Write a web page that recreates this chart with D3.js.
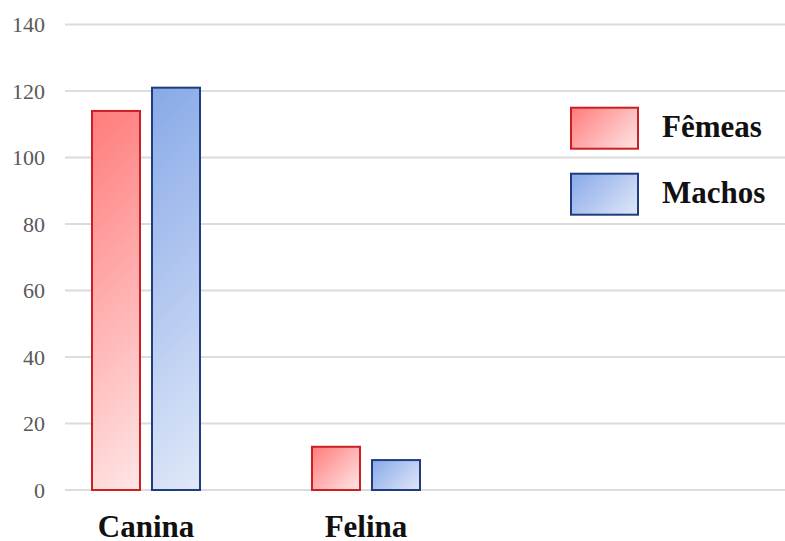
<!DOCTYPE html>
<html>
<head>
<meta charset="utf-8">
<script src="https://cdn.jsdelivr.net/npm/d3@7"></script>
<style>
  html, body { margin: 0; padding: 0; background: #fff; }
  svg { display: block; }
</style>
</head>
<body>
<svg id="chart" width="785" height="541"></svg>
<script>
// Animals by species and sex
const categories = ["Canina", "Felina"];
const seriesNames = ["Fêmeas", "Machos"];
const femeas = [114, 13];
const machos = [121, 9];
const yTicks = [0, 20, 40, 60, 80, 100, 120, 140];

const seriesValues = [femeas, machos];
const palette = [
  { stroke: "#cc1f24", from: "#ff7b7b", to: "#ffe6e6" },
  { stroke: "#1f3c7f", from: "#88a9e8", to: "#e0e8f8" }
];

const svg = d3.select("#chart");
const defs = svg.append("defs");
let gradCount = 0;

// 45° gradient in pixel space spanning the rectangle corner to corner
function diagGradient(si, x0, y0, w, h) {
  const id = "g" + (gradCount++);
  const d = (w + h) / 2;
  const g = defs.append("linearGradient")
    .attr("id", id)
    .attr("gradientUnits", "userSpaceOnUse")
    .attr("x1", x0).attr("y1", y0)
    .attr("x2", x0 + d).attr("y2", y0 + d);
  g.append("stop").attr("offset", "0%").attr("stop-color", palette[si].from);
  g.append("stop").attr("offset", "100%").attr("stop-color", palette[si].to);
  return `url(#${id})`;
}

const y = d3.scaleLinear().domain([0, 140]).range([490, 24.5]);
const x = d3.scaleBand().domain(categories).range([36, 476])
  .paddingInner(0.5).paddingOuter(0.25);
const xSub = d3.scaleBand().domain(seriesNames).range([0, x.bandwidth()])
  .paddingInner(1 / 6);

// horizontal gridlines
svg.append("g").selectAll("line").data(yTicks).join("line")
  .attr("x1", 65).attr("x2", 785)
  .attr("y1", d => y(d)).attr("y2", d => y(d))
  .attr("stroke", "#dcdcdc").attr("stroke-width", 2);

// y axis labels
const yAxis = d3.axisLeft(y).tickValues(yTicks).tickSize(0).tickPadding(0);
const ya = svg.append("g").attr("transform", "translate(45,0)").call(yAxis);
ya.select(".domain").remove();
ya.selectAll("text")
  .attr("font-family", "'Liberation Serif', 'Times New Roman', serif")
  .attr("font-size", 22).attr("fill", "#595959");

// bars
seriesNames.forEach((s, si) => {
  categories.forEach((c, ci) => {
    const v = seriesValues[si][ci];
    const bx = x(c) + xSub(s) + 1;
    const bw = xSub.bandwidth() - 2;
    const by = y(v);
    const bh = y(0) - y(v);
    svg.append("rect")
      .attr("x", bx).attr("width", bw)
      .attr("y", by).attr("height", bh)
      .attr("fill", diagGradient(si, bx, by, bw, bh))
      .attr("stroke", palette[si].stroke)
      .attr("stroke-width", 2);
  });
});

// category labels
const xAxis = d3.axisBottom(x).tickSize(0).tickPadding(0);
const xa = svg.append("g").attr("transform", "translate(0,537)").call(xAxis);
xa.select(".domain").remove();
xa.selectAll("text")
  .attr("dy", 0)
  .attr("font-family", "'Liberation Serif', 'Times New Roman', serif")
  .attr("font-size", 31).attr("font-weight", "bold").attr("fill", "#111");

// legend
const legend = svg.append("g");
seriesNames.forEach((s, si) => {
  const ly = 107.7 + si * 66;
  legend.append("rect")
    .attr("x", 571).attr("y", ly).attr("width", 67).attr("height", 41)
    .attr("fill", diagGradient(si, 571, ly, 67, 41))
    .attr("stroke", palette[si].stroke).attr("stroke-width", 2);
  legend.append("text")
    .attr("x", 662).attr("y", ly + 29)
    .attr("font-family", "'Liberation Serif', 'Times New Roman', serif")
    .attr("font-size", 31).attr("font-weight", "bold").attr("fill", "#111")
    .text(s);
});
</script>
</body>
</html>
